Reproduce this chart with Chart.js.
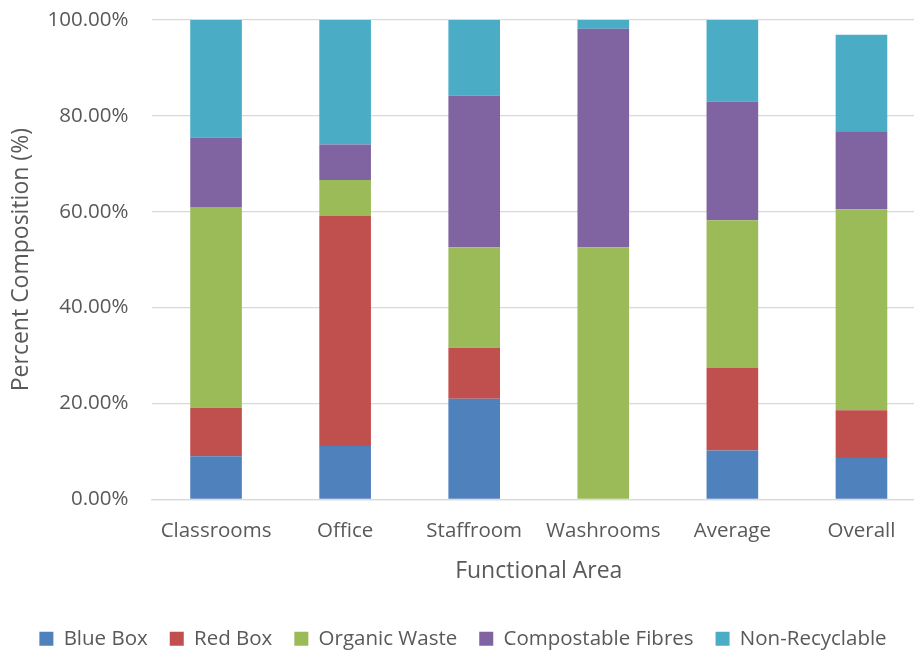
<!DOCTYPE html>
<html>
<head>
<meta charset="utf-8">
<script src="https://cdn.jsdelivr.net/npm/chart.js@4.4.0/dist/chart.umd.min.js"></script>
<style>
  html, body { margin: 0; padding: 0; background: #fff; overflow: hidden; }
  #wrap { width: 926px; height: 652px; }
</style>
</head>
<body>
<div id="wrap"><canvas id="myChart"></canvas></div>
<script>
var areas = ['Classrooms', 'Office', 'Staffroom', 'Washrooms', 'Average', 'Overall'];
var blueBox = [9.0, 11.1, 21.0, 0, 10.2, 8.6];
var redBox = [10.1, 48.0, 10.6, 0, 17.2, 10.0];
var organicWaste = [41.9, 7.5, 21.0, 52.6, 30.8, 41.9];
var compostableFibres = [14.5, 7.4, 31.6, 45.6, 24.8, 16.3];
var nonRecyclable = [24.5, 26.0, 15.8, 1.8, 17.0, 20.1];
var yTicks = [0, 20, 40, 60, 80, 100];

var textColor = '#595959';
var font = 'Open Sans';

function ds(label, data, color) {
    return {
        label: label,
        data: data,
        backgroundColor: color,
        borderWidth: 0,
        barPercentage: 0.4,
        categoryPercentage: 1.0
    };
}

var ctx = document.getElementById('myChart').getContext('2d');
var myChart = new Chart(ctx, {
    type: 'bar',
    data: {
        labels: areas,
        datasets: [
            ds('Blue Box', blueBox, '#4F81BD'),
            ds('Red Box', redBox, '#C0504D'),
            ds('Organic Waste', organicWaste, '#9BBB59'),
            ds('Compostable Fibres', compostableFibres, '#8064A2'),
            ds('Non-Recyclable', nonRecyclable, '#4BACC6')
        ]
    },
    options: {
        responsive: true,
        maintainAspectRatio: false,
        animation: false,
        layout: { padding: { top: 20, right: 0, bottom: -7, left: 0 } },
        plugins: {
            tooltip: { enabled: false },
            legend: {
                position: 'bottom',
                labels: {
                    color: textColor,
                    font: { family: font, size: 20.5 },
                    boxWidth: 14,
                    boxHeight: 14,
                    padding: 22
                }
            }
        },
        scales: {
            x: {
                stacked: true,
                grid: { display: false, drawTicks: false },
                border: { color: '#d9d9d9', width: 1.3 },
                ticks: { color: textColor, font: { family: font, size: 20.5 }, padding: 20, maxRotation: 0 },
                title: {
                    display: true,
                    text: 'Functional Area',
                    color: textColor,
                    font: { family: font, size: 23 },
                    padding: { top: -6, bottom: 21 }
                }
            },
            y: {
                stacked: true,
                min: 0,
                max: 100,
                afterFit: function(scale) {
                    scale.width = 151.5;
                    scale.paddingTop = 0;
                    scale.paddingBottom = 0;
                },
                afterBuildTicks: function(scale) {
                    scale.ticks = yTicks.map(function(v) { return { value: v }; });
                },
                grid: { color: '#d9d9d9', lineWidth: 1.3, drawTicks: false },
                border: { display: false },
                ticks: {
                    color: textColor,
                    font: { family: font, size: 20.5 },
                    padding: 23,
                    callback: function(v) { return v.toFixed(2) + '%'; }
                },
                title: {
                    display: true,
                    text: 'Percent Composition (%)',
                    color: textColor,
                    font: { family: font, size: 23 },
                    padding: { top: 8, bottom: 0 }
                }
            }
        }
    }
});
</script>
</body>
</html>
